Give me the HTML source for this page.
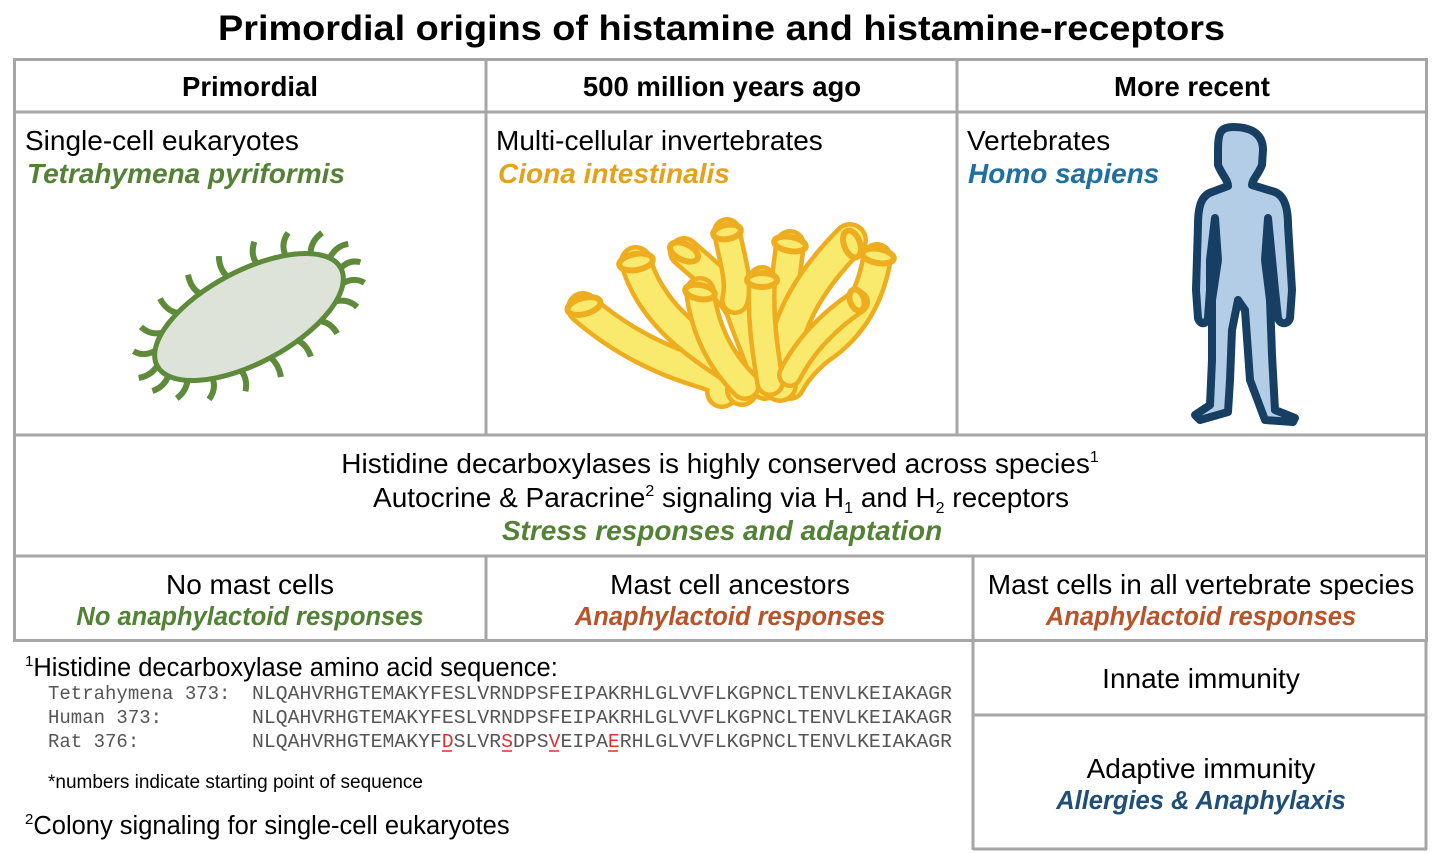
<!DOCTYPE html>
<html><head><meta charset="utf-8"><style>
html,body{margin:0;padding:0;background:#fff;}
svg{display:block;}
text{font-family:"Liberation Sans",Arial,sans-serif;}
text.m{font-family:"Liberation Mono","DejaVu Sans Mono",monospace;font-size:19px;fill:#555;}
</style></head><body>
<svg width="1438" height="854" viewBox="0 0 1438 854" xmlns="http://www.w3.org/2000/svg">
<text x="218" y="40" font-size="35" font-weight="bold" textLength="1007" lengthAdjust="spacingAndGlyphs">Primordial origins of histamine and histamine-receptors</text>
<g stroke="#a6a6a6" stroke-width="3" fill="none">
<rect x="14.5" y="59.5" width="1412" height="581"/>
<line x1="14" y1="112" x2="1427" y2="112"/>
<line x1="14" y1="435" x2="1427" y2="435"/>
<line x1="14" y1="556" x2="1427" y2="556"/>
<line x1="486" y1="59" x2="486" y2="435"/>
<line x1="957" y1="59" x2="957" y2="435"/>
<line x1="486" y1="556" x2="486" y2="640"/>
<line x1="973" y1="556" x2="973" y2="850"/>
<line x1="1426" y1="640" x2="1426" y2="850"/>
<line x1="973" y1="715" x2="1427" y2="715"/>
<line x1="973" y1="849" x2="1427" y2="849"/>
</g>
<g font-size="27.5" font-weight="bold" text-anchor="middle">
<text x="250" y="96">Primordial</text>
<text x="722" y="96">500 million years ago</text>
<text x="1192" y="96">More recent</text>
</g>
<g font-size="28">
<text x="25" y="150">Single-cell eukaryotes</text>
<text x="496" y="150">Multi-cellular invertebrates</text>
<text x="967" y="150">Vertebrates</text>
</g>
<g font-size="28" font-weight="bold" font-style="italic">
<text x="27" y="183" fill="#538135">Tetrahymena pyriformis</text>
<text x="498" y="183" fill="#e3a21a">Ciona intestinalis</text>
<text x="968" y="183" fill="#1f6fa0">Homo sapiens</text>
</g>
<!-- bacterium -->
<g transform="translate(249,317) rotate(-28)" stroke="#5e8b3a" stroke-width="6" fill="none" stroke-linecap="butt">
<path d="M104,0 Q116,-4 124,4 M98.9,14.2 Q112,14 117.9,24 M84.1,27 Q96,30 100.3,42 M61.2,37.2 Q70,44 70,56 M32.1,43.7 Q38,52 36,64 M0,46 Q4,56 0,68 M-32.1,43.7 Q-30,54 -38,64 M-61.2,37.2 Q-62,48 -74,54 M-84.1,27 Q-90,36 -102,38 M-98.9,14.2 Q-108,22 -120,20 M-104,0 Q-114,6 -126,2 M-98.9,-14.2 Q-112,-14 -118,-24 M-84.1,-27 Q-96,-30 -100,-42 M-61.2,-37.2 Q-70,-44 -70,-58 M-32.1,-43.7 Q-38,-52 -34,-66 M0,-46 Q-4,-56 2,-68 M32.1,-43.7 Q30,-54 40,-64 M61.2,-37.2 Q62,-50 74,-56 M84.1,-27 Q90,-38 104,-40 M98.9,-14.2 Q110,-22 122,-18"/>
<ellipse cx="0" cy="0" rx="104" ry="46" fill="#dde3d8" stroke-width="5"/>
</g>
<!-- ciona -->
<g fill="none" stroke-linecap="round" stroke-linejoin="round">
<path d="M583,308 C620,340 660,360 700,372 C720,378 730,385 722,392" stroke="#eeac1f" stroke-width="34"/>
<path d="M583,308 C620,340 660,360 700,372 C720,378 730,385 722,392" stroke="#f9ea6e" stroke-width="25"/>
<path d="M636,262 C650,310 690,340 720,360 C740,372 745,385 742,390" stroke="#eeac1f" stroke-width="34"/>
<path d="M636,262 C650,310 690,340 720,360 C740,372 745,385 742,390" stroke="#f9ea6e" stroke-width="25"/>
<path d="M684,252 C710,275 730,290 740,310 C750,340 765,370 765,385" stroke="#eeac1f" stroke-width="32"/>
<path d="M684,252 C710,275 730,290 740,310 C750,340 765,370 765,385" stroke="#f9ea6e" stroke-width="23"/>
<path d="M727,232 C732,260 740,280 735,300" stroke="#eeac1f" stroke-width="30"/>
<path d="M727,232 C732,260 740,280 735,300" stroke="#f9ea6e" stroke-width="21"/>
<path d="M790,245 C785,280 785,300 775,320" stroke="#eeac1f" stroke-width="32"/>
<path d="M790,245 C785,280 785,300 775,320" stroke="#f9ea6e" stroke-width="23"/>
<path d="M877,258 C870,300 850,330 820,350 C805,362 795,375 790,385" stroke="#eeac1f" stroke-width="32"/>
<path d="M877,258 C870,300 850,330 820,350 C805,362 795,375 790,385" stroke="#f9ea6e" stroke-width="23"/>
<path d="M850,240 C820,270 800,300 790,330 C785,350 780,370 780,385" stroke="#eeac1f" stroke-width="36"/>
<path d="M850,240 C820,270 800,300 790,330 C785,350 780,370 780,385" stroke="#f9ea6e" stroke-width="27"/>
<path d="M700,292 C705,330 720,360 745,385" stroke="#eeac1f" stroke-width="32"/>
<path d="M700,292 C705,330 720,360 745,385" stroke="#f9ea6e" stroke-width="23"/>
<path d="M762,280 C760,320 765,350 770,382" stroke="#eeac1f" stroke-width="30"/>
<path d="M762,280 C760,320 765,350 770,382" stroke="#f9ea6e" stroke-width="21"/>
<path d="M857,302 C830,320 805,345 790,375" stroke="#eeac1f" stroke-width="26"/>
<path d="M857,302 C830,320 805,345 790,375" stroke="#f9ea6e" stroke-width="17"/>
</g>
<g stroke="#eeac1f" stroke-width="6" fill="#f9ea6e">
<ellipse cx="584" cy="306" rx="17" ry="8" transform="rotate(-15 584 306)"/>
<ellipse cx="636" cy="262" rx="17" ry="8" transform="rotate(-10 636 262)"/>
<ellipse cx="684" cy="252" rx="15" ry="8" transform="rotate(25 684 252)"/>
<ellipse cx="727" cy="232" rx="14" ry="7" transform="rotate(-10 727 232)"/>
<ellipse cx="790" cy="244" rx="16" ry="7" transform="rotate(10 790 244)"/>
<ellipse cx="852" cy="244" rx="8" ry="14" transform="rotate(-20 852 244)"/>
<ellipse cx="878" cy="256" rx="16" ry="7" transform="rotate(10 878 256)"/>
<ellipse cx="762" cy="280" rx="15" ry="7"/>
<ellipse cx="700" cy="292" rx="15" ry="7" transform="rotate(10 700 292)"/>
<ellipse cx="857" cy="300" rx="7" ry="11" transform="rotate(-20 857 300)"/>
</g>
<!-- human -->
<path d="M1233,127 C1250,127 1263,133 1263,150 L1262,165 C1258,175 1252,180 1252,185 L1275,192 C1285,196 1288,210 1288,225 L1292,290 L1290,318 C1288,325 1280,325 1278,318 L1275,290 L1268,218 L1265,260 L1270,300 L1272,355 L1275,410 L1295,418 L1293,422 L1265,420 L1250,380 L1245,310 L1238,300 L1232,330 L1230,380 L1228,412 L1200,420 L1195,415 L1210,405 L1212,360 L1212,300 L1218,260 L1215,218 L1210,260 L1210,290 L1208,318 C1206,325 1200,325 1198,318 L1196,290 L1198,225 C1198,205 1202,195 1212,192 L1228,186 C1228,180 1222,175 1218,165 L1218,150 C1218,133 1220,127 1233,127 Z" fill="#b4cde6" stroke="#163f63" stroke-width="8" stroke-linejoin="round"/>
<g font-size="28" text-anchor="middle">
<text x="720" y="473">Histidine decarboxylases is highly conserved across species<tspan font-size="16" dy="-11">1</tspan></text>
<text x="721" y="507">Autocrine &amp; Paracrine<tspan font-size="16" dy="-11">2</tspan><tspan dy="11"> signaling via H</tspan><tspan font-size="16" dy="6">1</tspan><tspan dy="-6"> and H</tspan><tspan font-size="16" dy="6">2</tspan><tspan dy="-6"> receptors</tspan></text>
<text x="250" y="594">No mast cells</text>
<text x="730" y="594">Mast cell ancestors</text>
<text x="1201" y="594">Mast cells in all vertebrate species</text>
<text x="1201" y="688">Innate immunity</text>
<text x="1201" y="778">Adaptive immunity</text>
</g>
<g font-size="25.5" font-weight="bold" font-style="italic" text-anchor="middle">
<text x="722" y="540" fill="#538135" font-size="28">Stress responses and adaptation</text>
<text x="250" y="625" fill="#538135">No anaphylactoid responses</text>
<text x="730" y="625" fill="#b9532a">Anaphylactoid responses</text>
<text x="1201" y="625" fill="#b9532a">Anaphylactoid responses</text>
<text x="1201" y="809" fill="#1f4e79">Allergies &amp; Anaphylaxis</text>
</g>
<text x="25" y="676" font-size="25.5"><tspan font-size="15" dy="-10">1</tspan><tspan dy="10">Histidine decarboxylase amino acid sequence:</tspan></text>
<text class="m" x="48" y="699">Tetrahymena 373:</text>
<text class="m" x="48" y="723">Human 373:</text>
<text class="m" x="48" y="747">Rat 376:</text>
<text class="m" x="252" y="699" textLength="700" lengthAdjust="spacingAndGlyphs">NLQAHVRHGTEMAKYFESLVRNDPSFEIPAKRHLGLVVFLKGPNCLTENVLKEIAKAGR</text>
<text class="m" x="252" y="723" textLength="700" lengthAdjust="spacingAndGlyphs">NLQAHVRHGTEMAKYFESLVRNDPSFEIPAKRHLGLVVFLKGPNCLTENVLKEIAKAGR</text>
<text class="m" x="252" y="747" textLength="700" lengthAdjust="spacingAndGlyphs">NLQAHVRHGTEMAKYF<tspan fill="#e03030">D</tspan>SLVR<tspan fill="#e03030">S</tspan>DPS<tspan fill="#e03030">V</tspan>EIPA<tspan fill="#e03030">E</tspan>RHLGLVVFLKGPNCLTENVLKEIAKAGR</text>
<g stroke="#e03030" stroke-width="1.5">
<line x1="442" y1="751" x2="452" y2="751"/><line x1="502" y1="751" x2="512" y2="751"/>
<line x1="549" y1="751" x2="559" y2="751"/><line x1="608" y1="751" x2="618" y2="751"/>
</g>
<text x="48" y="788" font-size="19">*numbers indicate starting point of sequence</text>
<text x="25" y="834" font-size="25.5"><tspan font-size="15" dy="-10">2</tspan><tspan dy="10">Colony signaling for single-cell eukaryotes</tspan></text>
</svg>
</body></html>
